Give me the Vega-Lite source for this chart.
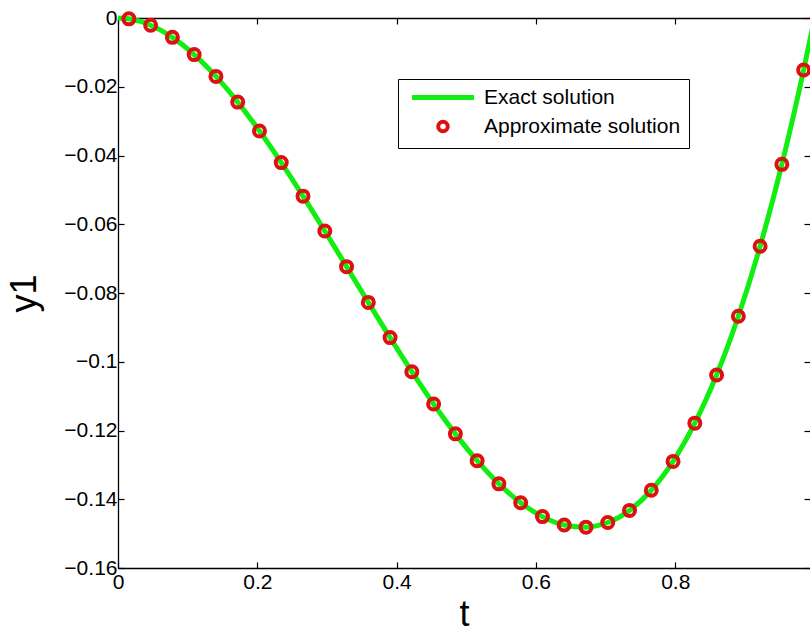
{
  "$schema": "https://vega.github.io/schema/vega-lite/v6.json",
  "width": 692,
  "height": 550,
  "autosize": {"type": "none"},
  "padding": {"left": 118, "top": 18, "right": 0, "bottom": 65},
  "background": "white",
  "config": {
    "view": {"stroke": null},
    "font": "Liberation Sans",
    "axis": {
      "domainColor": "black", "domainWidth": 1.3,
      "tickColor": "black", "tickWidth": 1.2, "tickSize": -6,
      "labelColor": "black", "labelFont": "Liberation Sans", "labelFontSize": 21,
      "grid": false,
      "titleFont": "Liberation Sans", "titleFontWeight": "normal", "titleColor": "black", "titleFontSize": 36
    }
  },
  "data": {"values": [
    {"t": 0, "y": 0, "series": "Exact solution"},
    {"t": 0.015625, "y": -0.00024, "series": "Exact solution"},
    {"t": 0.046875, "y": -0.00209, "series": "Exact solution"},
    {"t": 0.078125, "y": -0.00563, "series": "Exact solution"},
    {"t": 0.109375, "y": -0.01065, "series": "Exact solution"},
    {"t": 0.140625, "y": -0.01699, "series": "Exact solution"},
    {"t": 0.171875, "y": -0.02446, "series": "Exact solution"},
    {"t": 0.203125, "y": -0.03288, "series": "Exact solution"},
    {"t": 0.234375, "y": -0.04206, "series": "Exact solution"},
    {"t": 0.265625, "y": -0.05182, "series": "Exact solution"},
    {"t": 0.296875, "y": -0.06197, "series": "Exact solution"},
    {"t": 0.328125, "y": -0.07234, "series": "Exact solution"},
    {"t": 0.359375, "y": -0.08274, "series": "Exact solution"},
    {"t": 0.390625, "y": -0.09298, "series": "Exact solution"},
    {"t": 0.421875, "y": -0.10289, "series": "Exact solution"},
    {"t": 0.453125, "y": -0.11229, "series": "Exact solution"},
    {"t": 0.484375, "y": -0.12098, "series": "Exact solution"},
    {"t": 0.515625, "y": -0.12878, "series": "Exact solution"},
    {"t": 0.546875, "y": -0.13552, "series": "Exact solution"},
    {"t": 0.578125, "y": -0.14100, "series": "Exact solution"},
    {"t": 0.609375, "y": -0.14505, "series": "Exact solution"},
    {"t": 0.640625, "y": -0.14749, "series": "Exact solution"},
    {"t": 0.671875, "y": -0.14812, "series": "Exact solution"},
    {"t": 0.703125, "y": -0.14677, "series": "Exact solution"},
    {"t": 0.734375, "y": -0.14325, "series": "Exact solution"},
    {"t": 0.765625, "y": -0.13739, "series": "Exact solution"},
    {"t": 0.796875, "y": -0.12899, "series": "Exact solution"},
    {"t": 0.828125, "y": -0.11787, "series": "Exact solution"},
    {"t": 0.859375, "y": -0.10386, "series": "Exact solution"},
    {"t": 0.890625, "y": -0.08676, "series": "Exact solution"},
    {"t": 0.921875, "y": -0.06639, "series": "Exact solution"},
    {"t": 0.953125, "y": -0.04258, "series": "Exact solution"},
    {"t": 0.984375, "y": -0.01514, "series": "Exact solution"},
    {"t": 1, "y": 0, "series": "Exact solution"},
    {"t": 0.015625, "y": -0.00024, "series": "Approximate solution"},
    {"t": 0.046875, "y": -0.00209, "series": "Approximate solution"},
    {"t": 0.078125, "y": -0.00563, "series": "Approximate solution"},
    {"t": 0.109375, "y": -0.01065, "series": "Approximate solution"},
    {"t": 0.140625, "y": -0.01699, "series": "Approximate solution"},
    {"t": 0.171875, "y": -0.02446, "series": "Approximate solution"},
    {"t": 0.203125, "y": -0.03288, "series": "Approximate solution"},
    {"t": 0.234375, "y": -0.04206, "series": "Approximate solution"},
    {"t": 0.265625, "y": -0.05182, "series": "Approximate solution"},
    {"t": 0.296875, "y": -0.06197, "series": "Approximate solution"},
    {"t": 0.328125, "y": -0.07234, "series": "Approximate solution"},
    {"t": 0.359375, "y": -0.08274, "series": "Approximate solution"},
    {"t": 0.390625, "y": -0.09298, "series": "Approximate solution"},
    {"t": 0.421875, "y": -0.10289, "series": "Approximate solution"},
    {"t": 0.453125, "y": -0.11229, "series": "Approximate solution"},
    {"t": 0.484375, "y": -0.12098, "series": "Approximate solution"},
    {"t": 0.515625, "y": -0.12878, "series": "Approximate solution"},
    {"t": 0.546875, "y": -0.13552, "series": "Approximate solution"},
    {"t": 0.578125, "y": -0.14100, "series": "Approximate solution"},
    {"t": 0.609375, "y": -0.14505, "series": "Approximate solution"},
    {"t": 0.640625, "y": -0.14749, "series": "Approximate solution"},
    {"t": 0.671875, "y": -0.14812, "series": "Approximate solution"},
    {"t": 0.703125, "y": -0.14677, "series": "Approximate solution"},
    {"t": 0.734375, "y": -0.14325, "series": "Approximate solution"},
    {"t": 0.765625, "y": -0.13739, "series": "Approximate solution"},
    {"t": 0.796875, "y": -0.12899, "series": "Approximate solution"},
    {"t": 0.828125, "y": -0.11787, "series": "Approximate solution"},
    {"t": 0.859375, "y": -0.10386, "series": "Approximate solution"},
    {"t": 0.890625, "y": -0.08676, "series": "Approximate solution"},
    {"t": 0.921875, "y": -0.06639, "series": "Approximate solution"},
    {"t": 0.953125, "y": -0.04258, "series": "Approximate solution"},
    {"t": 0.984375, "y": -0.01514, "series": "Approximate solution"}
  ]},
  "layer": [
    {
      "transform": [{"filter": "datum.series === 'Exact solution'"}],
      "mark": {"type": "line", "strokeWidth": 5, "interpolate": "monotone"},
      "encoding": {
        "x": {"field": "t", "type": "quantitative",
          "scale": {"domain": [0, 0.9935], "nice": false, "zero": false},
          "axis": {"orient": "bottom", "values": [0, 0.2, 0.4, 0.6, 0.8], "format": "~g", "title": "t", "labelFontSize": 21, "titleFontSize": 36, "labelPadding": 9, "titlePadding": 5, "labelFlush": false, "tickSize": -6}},
        "y": {"field": "y", "type": "quantitative",
          "scale": {"domain": [-0.16, 0], "nice": false, "zero": false},
          "axis": {"orient": "left", "values": [0, -0.02, -0.04, -0.06, -0.08, -0.1, -0.12, -0.14, -0.16], "format": "~g", "title": "y1", "labelFontSize": 21, "titleFontSize": 36, "labelPadding": 7, "titlePadding": 20, "labelFlush": false, "tickSize": -6}},
        "color": {"field": "series", "type": "nominal",
          "scale": {"domain": ["Exact solution", "Approximate solution"], "range": ["#11ee11", "#dd1111"]},
          "legend": {
            "orient": "none", "legendX": 280, "legendY": 61, "title": null,
            "strokeColor": "black", "fillColor": "white", "padding": 8, "cornerRadius": 0,
            "labelFont": "Liberation Sans", "labelFontSize": 21, "labelColor": "black", "labelLimit": 0,
            "rowPadding": 5,
            "symbolType": "stroke", "symbolSize": 100, "symbolStrokeWidth": 5,
            "encode": {
              "symbols": {"update": {
                "x": {"value": 37},
                "shape": {"signal": "datum.value === 'Exact solution' ? 'stroke' : 'circle'"},
                "size": {"signal": "datum.value === 'Exact solution' ? 3844 : 90"},
                "strokeWidth": {"signal": "datum.value === 'Exact solution' ? 5 : 4"},
                "fill": {"value": "transparent"}
              }},
              "labels": {"update": {"x": {"value": 78}}}
            }
          }}
      }
    },
    {
      "transform": [{"filter": "datum.series === 'Approximate solution'"}],
      "mark": {"type": "point", "shape": "circle", "filled": false, "strokeWidth": 4, "size": 121, "opacity": 1},
      "encoding": {
        "x": {"field": "t", "type": "quantitative",
          "axis": {"orient": "top", "values": [0, 0.2, 0.4, 0.6, 0.8], "labels": false, "title": null, "tickSize": -6}},
        "y": {"field": "y", "type": "quantitative",
          "axis": {"orient": "right", "values": [0, -0.02, -0.04, -0.06, -0.08, -0.1, -0.12, -0.14, -0.16], "labels": false, "title": null, "domain": false, "tickSize": -6}},
        "color": {"field": "series", "type": "nominal"}
      }
    }
  ],
  "resolve": {"axis": {"x": "independent", "y": "independent"}}
}
